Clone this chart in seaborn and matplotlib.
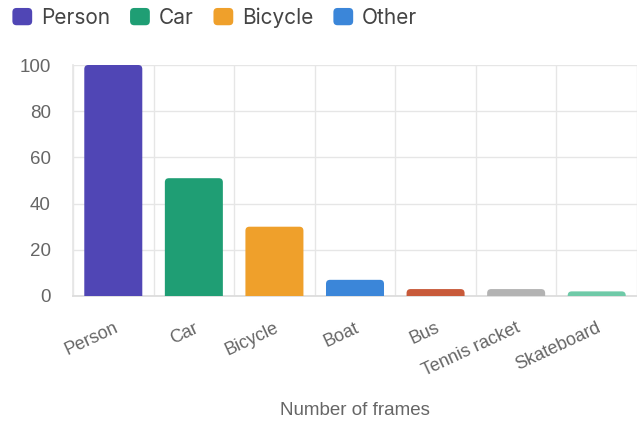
import matplotlib
matplotlib.use("Agg")
import matplotlib.pyplot as plt
from matplotlib.patches import Patch, FancyBboxPatch
from matplotlib.legend_handler import HandlerBase
import seaborn as sns
import pandas as pd

# Detected objects and how many frames each appears in
categories = ["Person", "Car", "Bicycle", "Boat", "Bus", "Tennis racket", "Skateboard"]
frames = [100, 51, 30, 7, 3, 3, 2]
bar_colors = ["#5046b5", "#1f9e74", "#efa02b", "#3b86d9", "#c85a3a", "#b3b3b3", "#6fcaa8"]

legend_labels = ["Person", "Car", "Bicycle", "Other"]
legend_colors = ["#5046b5", "#1f9e74", "#efa02b", "#3b86d9"]

y_ticks = [0, 20, 40, 60, 80, 100]
x_title = "Number of frames"

grid_color = "#e6e6e6"
text_color = "#666666"


class RoundedSwatch(HandlerBase):
    """Legend key drawn as a small rounded square."""

    def create_artists(self, legend, orig_handle, xdescent, ydescent,
                       width, height, fontsize, trans):
        box = FancyBboxPatch((-xdescent, -ydescent), width, height,
                             boxstyle="round,pad=0,rounding_size=3",
                             facecolor=orig_handle.get_facecolor(),
                             edgecolor="none", transform=trans)
        return [box]


sns.set_theme(style="white")
plt.rcParams["font.family"] = ["Liberation Sans", "DejaVu Sans"]

df = pd.DataFrame({"category": categories, "frames": frames})

fig = plt.figure(figsize=(6.37, 4.24), dpi=100)
ax = fig.add_axes([73 / 637, 1 - 296 / 424, 1 - 73 / 637, (296 - 65) / 424])

sns.barplot(data=df, x="category", y="frames", hue="category",
            palette=bar_colors, width=0.72, legend=False, ax=ax,
            saturation=1, zorder=3)

ax.set_ylim(0, 100)
ax.set_xlim(-0.5, len(categories) - 0.5)

# Swap the square bars for ones with rounded tops; the bottom is pushed
# below the baseline so only the top corners show as rounded
aspect = 35.0
sink = 2.0
for bar in list(ax.patches):
    x, y = bar.get_x(), bar.get_y()
    w, h = bar.get_width(), bar.get_height()
    fc = bar.get_facecolor()
    bar.remove()
    r = min(0.05, (h + sink) / aspect / 2)
    rounded = FancyBboxPatch((x, y - sink), w, h + sink,
                             boxstyle=f"round,pad=0,rounding_size={r}",
                             mutation_aspect=aspect, facecolor=fc,
                             edgecolor="none", zorder=3)
    ax.add_patch(rounded)

ax.set_yticks(y_ticks)
ax.set_yticklabels([str(v) for v in y_ticks], fontsize=13.5, color=text_color)

# Category boundaries carry the vertical grid lines
ax.set_xticks([i + 0.5 for i in range(-1, len(categories))], minor=True)
ax.set_xticks(range(len(categories)))
ax.set_xticklabels(categories, rotation=25, ha="right", rotation_mode="anchor",
                   fontsize=13, color=text_color)
ax.tick_params(axis="x", which="major", length=0, pad=17)
ax.tick_params(axis="x", which="minor", length=18, color=grid_color, width=1)
ax.tick_params(axis="y", length=12, color=grid_color, width=1, pad=4)

ax.grid(axis="y", color=grid_color, linewidth=1, zorder=0)
ax.grid(axis="x", which="minor", color=grid_color, linewidth=1, zorder=0)
ax.grid(axis="x", which="major", visible=False)

for side in ["top", "right"]:
    ax.spines[side].set_visible(False)
ax.spines["left"].set_color(grid_color)
ax.spines["bottom"].set_color("#dcdcdc")

ax.set_xlabel(x_title, fontsize=13.5, color=text_color)
ax.xaxis.set_label_coords(0.5, -(411 - 296) / 231)
ax.xaxis.label.set_va("center")
ax.set_ylabel("")

handles = [Patch(facecolor=c, edgecolor="none", label=l)
           for l, c in zip(legend_labels, legend_colors)]
fig.legend(handles=handles, loc="upper left", bbox_to_anchor=(0.008, 1.0),
           ncol=4, frameon=False, handlelength=0.95, handleheight=0.9,
           handletextpad=0.43, columnspacing=0.95, borderaxespad=0.0,
           borderpad=0.35, labelcolor="#444444",
           handler_map={Patch: RoundedSwatch()},
           prop={"family": "Inter", "size": 15})

fig.savefig("out.png", dpi=100)
